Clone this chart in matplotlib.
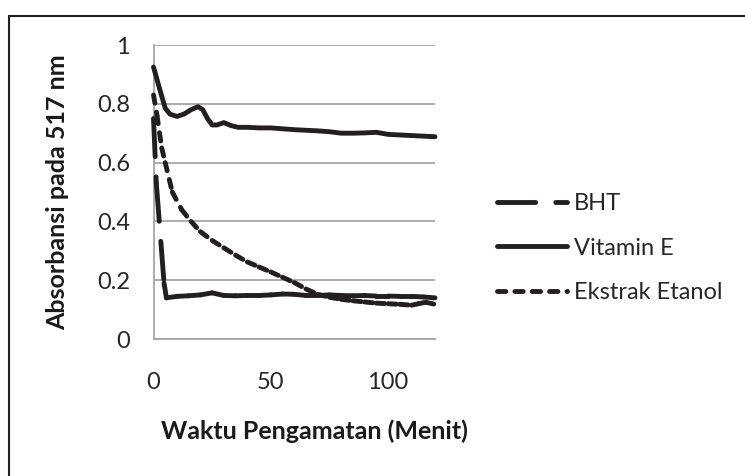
import numpy as np
import matplotlib
matplotlib.use('Agg')
import matplotlib.pyplot as plt
from matplotlib.collections import LineCollection
from matplotlib.lines import Line2D
from matplotlib.patches import Rectangle

plt.rcParams['font.family'] = ['Lato', 'DejaVu Sans']
plt.rcParams['lines.scale_dashes'] = False

# absorbance at 517 nm vs observation time (minutes)
time_bht = [0, 1.2, 4.5, 5.5, 10, 15, 20, 25, 30, 35, 40, 45, 50, 55, 60, 65,
            70, 75, 80, 85, 90, 95, 100, 105, 110, 115, 120]
abs_bht = [0.75, 0.53, 0.19, 0.14, 0.145, 0.147, 0.15, 0.157, 0.148, 0.147,
           0.148, 0.148, 0.15, 0.153, 0.152, 0.148, 0.148, 0.15, 0.148, 0.147,
           0.148, 0.146, 0.146, 0.145, 0.145, 0.143, 0.14]

time_vit = [0, 3, 5, 7, 10, 13, 16, 19, 21, 23, 25, 27, 30, 33, 36, 40, 45,
            50, 55, 60, 65, 70, 75, 80, 85, 90, 95, 100, 105, 110, 115, 120]
abs_vit = [0.925, 0.84, 0.785, 0.765, 0.757, 0.765, 0.78, 0.79, 0.78, 0.75,
           0.728, 0.728, 0.736, 0.726, 0.72, 0.72, 0.718, 0.718, 0.715, 0.712,
           0.71, 0.708, 0.705, 0.70, 0.70, 0.701, 0.703, 0.696, 0.694, 0.692,
           0.69, 0.688]

time_eks = [0, 1.5, 3.5, 5, 8, 12, 16, 20, 25, 30, 35, 40, 45, 50, 55, 60, 65,
            70, 75, 80, 85, 90, 95, 100, 105, 110, 113, 116, 120]
abs_eks = [0.83, 0.76, 0.65, 0.60, 0.50, 0.44, 0.40, 0.365, 0.335, 0.31,
           0.285, 0.262, 0.245, 0.228, 0.21, 0.192, 0.17, 0.152, 0.142, 0.135,
           0.13, 0.126, 0.122, 0.12, 0.118, 0.115, 0.12, 0.125, 0.118]

INK = '#231f20'
LW = 3.5
BHT_DASH = (27.5, 14.5)
EKS_DASH = (6, 6.5)
FS = 17


def dashed(ax, t, v, dashes):
    # every segment starts its own dash pattern
    pts = np.column_stack([t, v])
    segs = np.stack([pts[:-1], pts[1:]], axis=1)
    lc = LineCollection(segs, colors=INK, linewidths=LW,
                        linestyles=[(0, dashes)], capstyle='round',
                        joinstyle='round', zorder=3)
    lc.set_clip_on(False)
    ax.add_collection(lc)


fig = plt.figure(figsize=(7.45, 4.76), dpi=100)
ax = fig.add_axes([153.5 / 745, 1 - 339 / 476, 281.5 / 745, 294 / 476])

ax.plot(time_vit, abs_vit, color=INK, lw=LW, solid_capstyle='round',
        solid_joinstyle='round', zorder=3, clip_on=False)
dashed(ax, time_bht, abs_bht, BHT_DASH)
dashed(ax, time_eks, abs_eks, EKS_DASH)

ax.set_xlim(0, 120)
ax.set_ylim(0, 1)
ax.set_xticks([0, 50, 100])
ax.set_yticks([0, 0.2, 0.4, 0.6, 0.8, 1.0])
ax.set_yticklabels(['0', '0.2', '0.4', '0.6', '0.8', '1'])
ax.tick_params(axis='both', length=0, labelsize=FS, colors='#262626')
ax.tick_params(axis='y', pad=17)
ax.tick_params(axis='x', pad=24)
ax.yaxis.grid(True, color='#a6a6a6', lw=1.3)
ax.set_axisbelow(True)
for side in ['top', 'right']:
    ax.spines[side].set_visible(False)
for side in ['left', 'bottom']:
    ax.spines[side].set_color('#a6a6a6')
    ax.spines[side].set_linewidth(1.3)

ax.set_xlabel('Waktu Pengamatan (Menit)', fontsize=18, fontweight='bold',
              color='#1a1a1a', ha='left')
ax.set_ylabel('Absorbansi pada 517 nm', fontsize=18, fontweight='bold',
              color='#1a1a1a')
ax.xaxis.set_label_coords(0.028, -0.272)
ax.yaxis.set_label_coords(-0.30, 0.5)

handles = [
    Line2D([], [], color=INK, lw=LW, linestyle=(0, BHT_DASH),
           dash_capstyle='round'),
    Line2D([], [], color=INK, lw=LW, solid_capstyle='round'),
    Line2D([], [], color=INK, lw=LW, linestyle=(0, EKS_DASH),
           dash_capstyle='round'),
]
fig.legend(handles, ['BHT', 'Vitamin E', 'Ekstrak Etanol'],
           loc='center left', bbox_to_anchor=(497 / 745, 1 - 248 / 476),
           frameon=False, borderpad=0, borderaxespad=0, fontsize=FS,
           handlelength=2.95, handletextpad=0.3, labelspacing=1.0,
           labelcolor='#262626')

# chart border
fig.add_artist(Rectangle((9 / 745, -0.1), 1.2, 1 - 16 / 476 + 0.1,
                         transform=fig.transFigure, fill=False,
                         edgecolor=INK, lw=1.5))

fig.savefig('out.png', dpi=100)
